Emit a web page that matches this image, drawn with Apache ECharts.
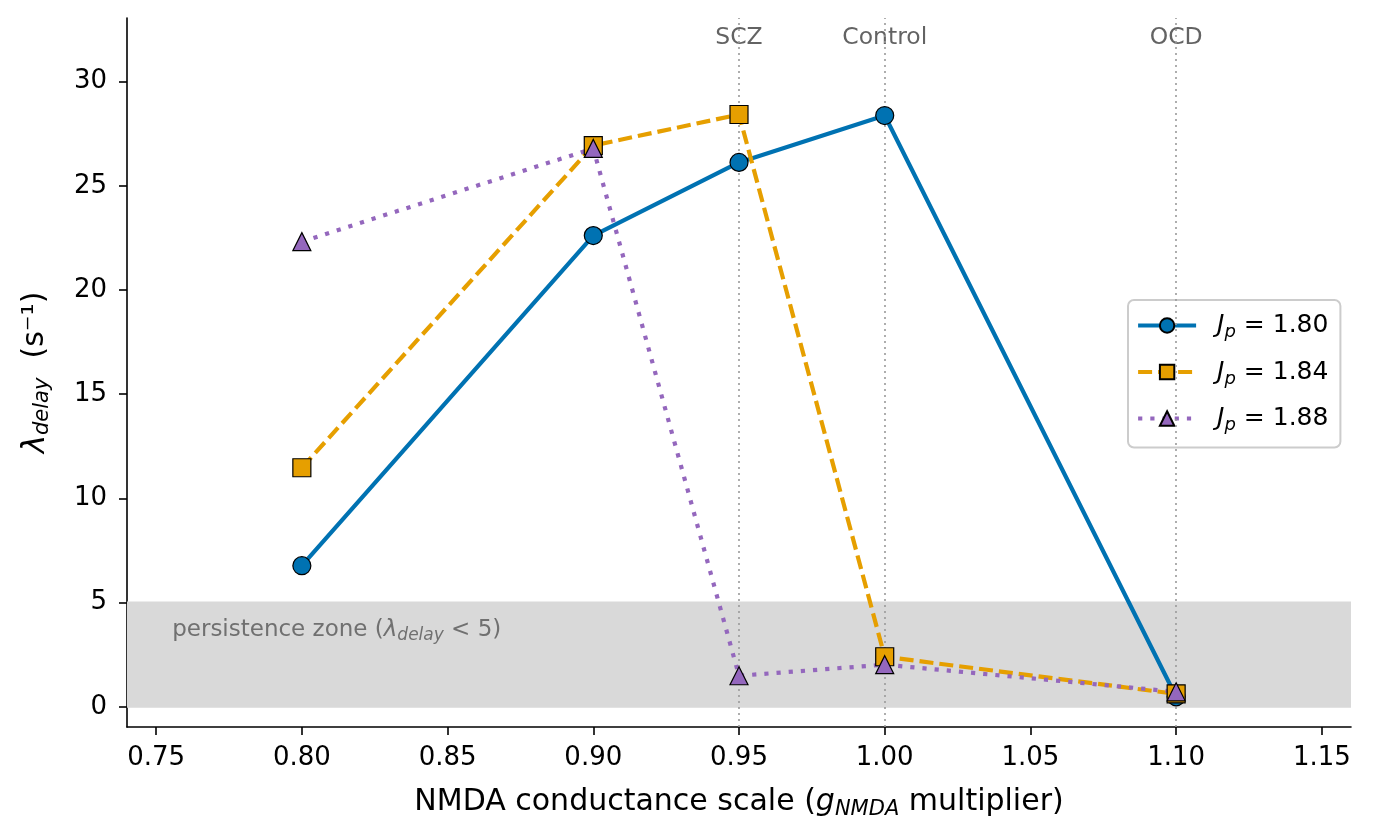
<!DOCTYPE html>
<html>
<head>
    <meta charset="utf-8"/>
    <title>lambda delay vs NMDA scale</title>
    <style type="text/css">
        html, body, #chart {
            margin: 0;
            padding: 0;
            width: 1373px;
            height: 839px;
            background: #ffffff;
        }
    </style>
    <script type="text/javascript" src="https://cdn.jsdelivr.net/npm/echarts@6/dist/echarts.min.js"></script>
</head>
<body>
<div id="chart"></div>
<script type="text/javascript">
    // data
    var nmdaScale = [0.80, 0.90, 0.95, 1.00, 1.10];
    var jp180 = [6.77, 22.61, 26.12, 28.37, 0.48];
    var jp184 = [11.47, 26.93, 28.42, 2.40, 0.62];
    var jp188 = [22.32, 26.79, 1.49, 2.02, 0.72];
    var seriesNames = ['1.80', '1.84', '1.88'];
    var xTicks = [0.75, 0.80, 0.85, 0.90, 0.95, 1.00, 1.05, 1.10, 1.15];
    var yTicks = [0, 5, 10, 15, 20, 25, 30];
    var refX = [0.95, 1.00, 1.10];
    var refNames = ['SCZ', 'Control', 'OCD'];
    var refLabelY = 32.1;
    var zoneLow = -0.05, zoneHigh = 5.05;
    var zoneLabelAt = [0.7555, 3.68];

    var FONT = '"DejaVu Sans", sans-serif';

    function pairs(xs, ys) {
        var out = [];
        for (var i = 0; i < xs.length; i++) {
            out.push([xs[i], ys[i]]);
        }
        return out;
    }

    var chart = echarts.init(document.getElementById('chart'), null, {renderer: 'canvas'});

    var lineSeries = function (name, values, color, symbol, dash, width) {
        return {
            name: name,
            type: 'line',
            data: pairs(nmdaScale, values),
            symbol: symbol,
            symbolSize: 18,
            z: 5,
            lineStyle: {color: color, width: width, type: dash, cap: 'butt'},
            itemStyle: {color: color, borderColor: '#000000', borderWidth: 1.2},
            emphasis: {disabled: true}
        };
    };

    var refData = [];
    for (var i = 0; i < refX.length; i++) {
        refData.push({value: [refX[i], refLabelY], name: refNames[i]});
    }
    var refLines = refX.map(function (v) { return {xAxis: v}; });

    var option = {
        animation: false,
        textStyle: {fontFamily: FONT},
        grid: {left: 127, right: 22, top: 18, bottom: 112},
        legend: {
            orient: 'vertical',
            left: 1128,
            top: 300,
            padding: [13, 12, 13, 8],
            itemGap: 18,
            itemWidth: 58,
            itemHeight: 18,
            borderColor: '#cccccc',
            borderWidth: 2,
            borderRadius: 6,
            backgroundColor: '#ffffff',
            lineStyle: {width: 4.2},
            data: seriesNames,
            formatter: function (name) {
                return '{i|J}{s|p}{n| = ' + name + '}';
            },
            textStyle: {
                fontFamily: FONT,
                color: '#000000',
                padding: [0, 0, 0, 16],
                rich: {
                    i: {fontSize: 25, fontStyle: 'italic', fontFamily: FONT},
                    s: {fontSize: 18, fontStyle: 'italic', fontFamily: FONT, padding: [14, 0, 0, 0]},
                    n: {fontSize: 25, fontFamily: FONT}
                }
            }
        },
        xAxis: {
            type: 'value',
            min: 0.74,
            max: 1.16,
            name: 'NMDA conductance scale ({i|g}{s|NMDA}{n| multiplier)}',
            nameLocation: 'middle',
            nameGap: 58,
            nameTextStyle: {
                fontSize: 30,
                color: '#000000',
                fontFamily: FONT,
                rich: {
                    i: {fontSize: 30, fontStyle: 'italic', fontFamily: FONT},
                    s: {fontSize: 21, fontStyle: 'italic', fontFamily: FONT, padding: [14, 0, 0, 0]},
                    n: {fontSize: 30, fontFamily: FONT}
                }
            },
            splitLine: {show: false},
            axisLine: {onZero: false, lineStyle: {color: '#000000', width: 1.6}},
            axisTick: {customValues: xTicks, length: 8, lineStyle: {color: '#000000', width: 1.6}},
            axisLabel: {
                customValues: xTicks,
                fontSize: 26,
                color: '#000000',
                margin: 18,
                formatter: function (v) { return v.toFixed(2); }
            }
        },
        yAxis: {
            type: 'value',
            min: -0.97,
            max: 33.05,
            name: '{l|λ}{s|delay}{n|  (s⁻¹)}',
            nameLocation: 'middle',
            nameRotate: 90,
            nameGap: 74,
            nameTextStyle: {
                fontSize: 30,
                color: '#000000',
                fontFamily: FONT,
                rich: {
                    l: {fontSize: 31, fontStyle: 'italic', fontFamily: FONT},
                    s: {fontSize: 21, fontStyle: 'italic', fontFamily: FONT, padding: [14, 0, 0, 0]},
                    n: {fontSize: 30, fontFamily: FONT}
                }
            },
            splitLine: {show: false},
            axisLine: {show: true, onZero: false, lineStyle: {color: '#000000', width: 1.6}},
            axisTick: {show: true, customValues: yTicks, length: 8, lineStyle: {color: '#000000', width: 1.6}},
            axisLabel: {customValues: yTicks, fontSize: 26, color: '#000000', margin: 20}
        },
        series: [
            {
                name: 'ref',
                type: 'scatter',
                data: refData,
                symbolSize: 0,
                silent: true,
                z: 3,
                label: {
                    show: true,
                    position: 'inside',
                    formatter: '{b}',
                    fontSize: 23.5,
                    color: '#3c3c3c',
                    fontFamily: FONT
                },
                markLine: {
                    silent: true,
                    symbol: ['none', 'none'],
                    label: {show: false},
                    lineStyle: {color: '#9a9a9a', width: 1.6, type: [2, 4]},
                    data: refLines
                },
                markArea: {
                    silent: true,
                    itemStyle: {color: '#d9d9d9'},
                    label: {show: false},
                    data: [[{yAxis: zoneLow}, {yAxis: zoneHigh}]]
                }
            },
            {
                name: 'zoneLabel',
                type: 'scatter',
                data: [zoneLabelAt],
                symbolSize: 0,
                silent: true,
                z: 3,
                label: {
                    show: true,
                    position: 'right',
                    distance: 0,
                    formatter: 'persistence zone ({l|λ}{s|delay}{n| < 5)}',
                    color: '#555555',
                    fontSize: 23,
                    fontFamily: FONT,
                    rich: {
                        l: {fontSize: 23, fontStyle: 'italic', color: '#555555', fontFamily: FONT},
                        s: {fontSize: 17, fontStyle: 'italic', color: '#555555', fontFamily: FONT, padding: [11, 0, 0, 0]},
                        n: {fontSize: 23, color: '#555555', fontFamily: FONT}
                    }
                }
            },
            lineSeries(seriesNames[0], jp180, '#0072B2', 'circle', 'solid', 4.2),
            lineSeries(seriesNames[1], jp184, '#E69F00', 'rect', [14, 6], 4.2),
            lineSeries(seriesNames[2], jp188, '#9467BD', 'triangle', [4.2, 8], 4.2)
        ]
    };

    chart.setOption(option);
</script>
</body>
</html>
